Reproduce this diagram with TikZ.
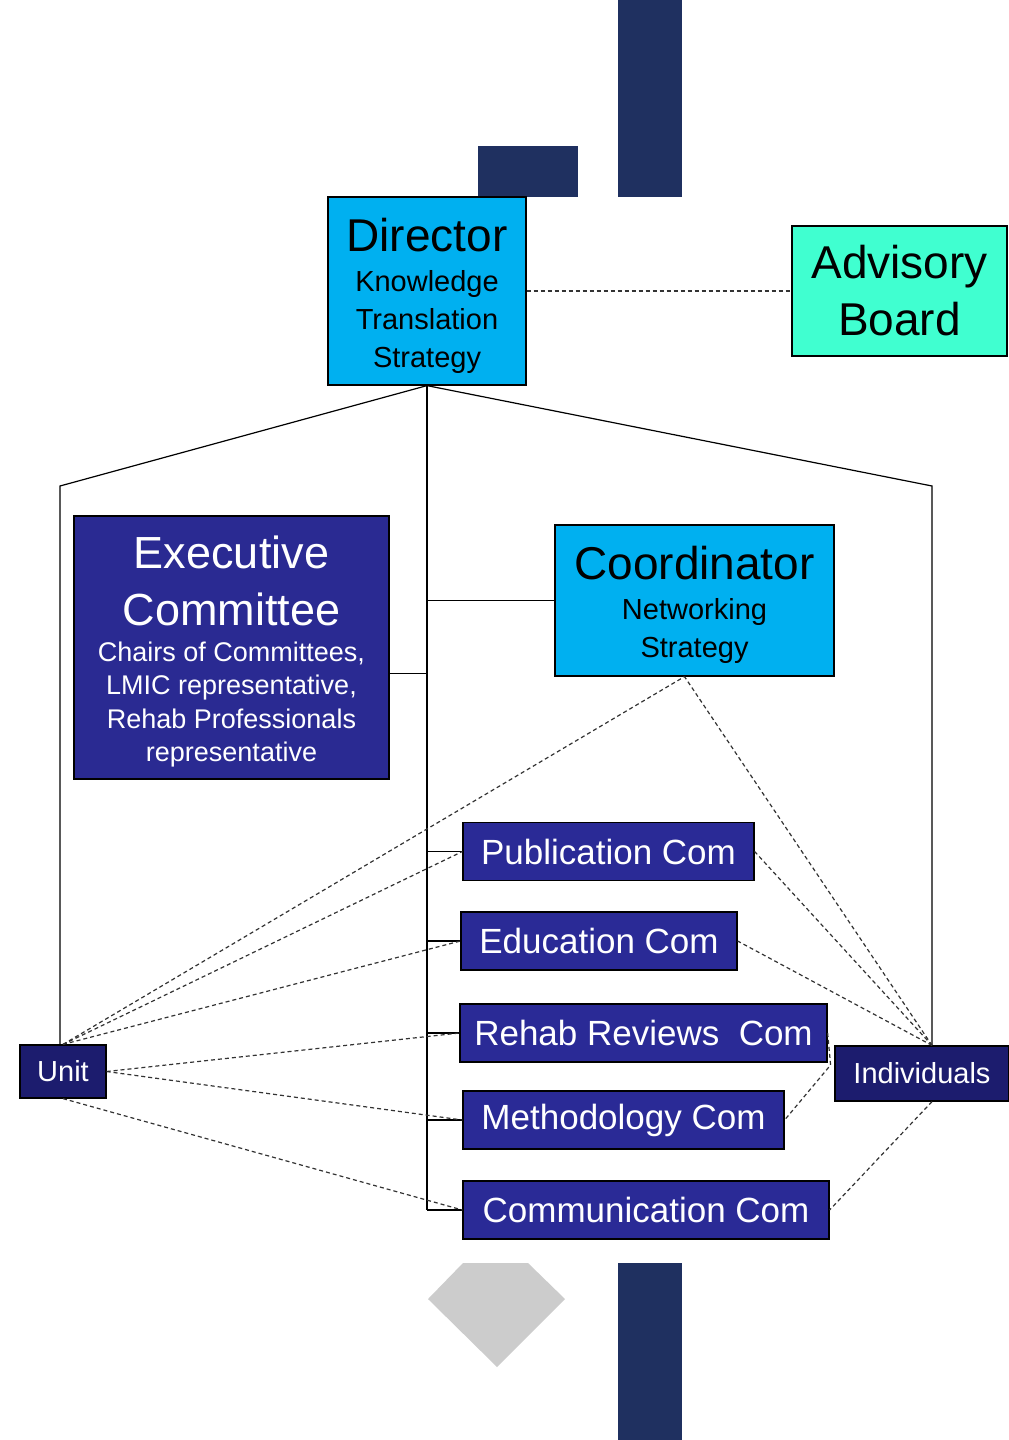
\documentclass[tikz,border=0pt]{standalone}
\usepackage{fontspec}
\setmainfont{Liberation Sans}

\definecolor{barnavy}{RGB}{31,48,96}
\definecolor{leadcyan}{RGB}{0,176,240}
\definecolor{boardaqua}{RGB}{64,255,208}
\definecolor{execblue}{RGB}{42,42,146}
\definecolor{comblue}{RGB}{42,42,150}
\definecolor{memblue}{RGB}{28,28,110}
\definecolor{gemgray}{RGB}{204,204,204}

\begin{document}
\begin{tikzpicture}[x=1pt, y=-1pt,
    box/.style={draw=black, line width=1.2pt, inner sep=0pt, align=center},
    lead/.style={box, fill=leadcyan, text=black, font=\fontsize{29}{38}\selectfont},
    board/.style={box, fill=boardaqua, text=black, font=\fontsize{46}{57}\selectfont},
    exec/.style={box, fill=execblue, text=white, font=\fontsize{27}{33.5}\selectfont},
    com/.style={box, fill=comblue, text=white, minimum height=58pt, font=\fontsize{35}{40}\selectfont},
    member/.style={box, fill=memblue, text=white, font=\fontsize{29}{34}\selectfont},
    link/.style={line width=1.2pt},
    dashlink/.style={line width=1.2pt, draw=black!80, dash pattern=on 4pt off 3pt}
]
    \useasboundingbox (0,0) rectangle (1009,1440);

    % Decoration
    \fill[barnavy] (618,0) rectangle (682,197);
    \fill[barnavy] (478,146) rectangle (578,197);
    \fill[barnavy] (618,1263) rectangle (682,1440);
    \fill[gemgray] (463,1263) -- (528,1263) -- (565,1299) -- (497,1367) -- (428,1299) -- cycle;

    % Blocks
    \node[lead, minimum width=198pt, minimum height=188pt] (director) at (427,291)
        {{\fontsize{46}{50}\selectfont\rule{0pt}{44pt}Director}\\[2pt]Knowledge\\Translation\\Strategy};
    \node[board, minimum width=215pt, minimum height=130pt] (board) at (899.5,291)
        {Advisory\\Board};
    \node[exec, minimum width=315pt, minimum height=263pt] (exec) at (231.5,647.5)
        {{\fontsize{45}{50}\selectfont\rule{0pt}{41pt}Executive}\\[23.5pt]{\fontsize{45}{50}\selectfont Committee}\\[2.5pt]Chairs of Committees,\\LMIC representative,\\Rehab Professionals\\representative};
    \node[lead, minimum width=279pt, minimum height=151pt] (coord) at (694.5,600.5)
        {{\fontsize{46}{50}\selectfont\rule{0pt}{42pt}Coordinator}\\[2pt]Networking\\Strategy};

    % Committees
    \node[com, minimum width=291pt] (pub) at (608.5,851.5) {Publication Com};
    \node[com, minimum width=276pt] (edu) at (599,941) {Education Com};
    \node[com, minimum width=367pt] (rehab) at (643.5,1033) {Rehab Reviews~ Com};
    \node[com, minimum width=321pt] (method) at (623.5,1120) {Methodology Com};
    \node[com, minimum width=366pt] (comm) at (646,1210) {Communication Com};

    % Members
    \node[member, minimum width=86pt, minimum height=53pt] (unit) at (63,1071.5) {Unit};
    \node[member, minimum width=174pt, minimum height=55pt] (indiv) at (922,1073.5) {Individuals};

    % Lines
    \coordinate (lcorner) at (60,486);
    \coordinate (rcorner) at (932,486);
    \coordinate (execjoin) at ([yshift=-26pt]exec.east);
    \coordinate (ihub) at (rcorner |- indiv.north);
    \draw[link] (unit.north -| lcorner) -- (lcorner) -- (director.south) -- (rcorner) -- (ihub);
    \draw[link] (director.south) -- (director.south |- comm.west);
    \draw[link] (execjoin) -- (director.south |- execjoin);
    \draw[link] (coord.west) -- (director.south |- coord.west);
    \foreach \com in {pub,edu,rehab,method,comm}
        \draw[link] (\com.west) -- (director.south |- \com.west);
    \draw[dashlink] (director.east) -- (board.west);

    % Dashed links
    \draw[dashlink] (unit.north) -- ([xshift=-10pt]coord.south);
    \draw[dashlink] (unit.north) -- (pub.west);
    \draw[dashlink] (unit.north) -- (edu.west);
    \draw[dashlink] (unit.east) -- (rehab.west);
    \draw[dashlink] (unit.east) -- (method.west);
    \draw[dashlink] (unit.south) -- (comm.west);
    \draw[dashlink] (ihub) -- ([xshift=-10pt]coord.south);
    \draw[dashlink] (ihub) -- (pub.east);
    \draw[dashlink] (ihub) -- (edu.east);
    \draw[dashlink] (rehab.east) -- ++(3,32) -- (method.east);
    \draw[dashlink] ([xshift=10pt]indiv.south) -- (comm.east);
\end{tikzpicture}
\end{document}
